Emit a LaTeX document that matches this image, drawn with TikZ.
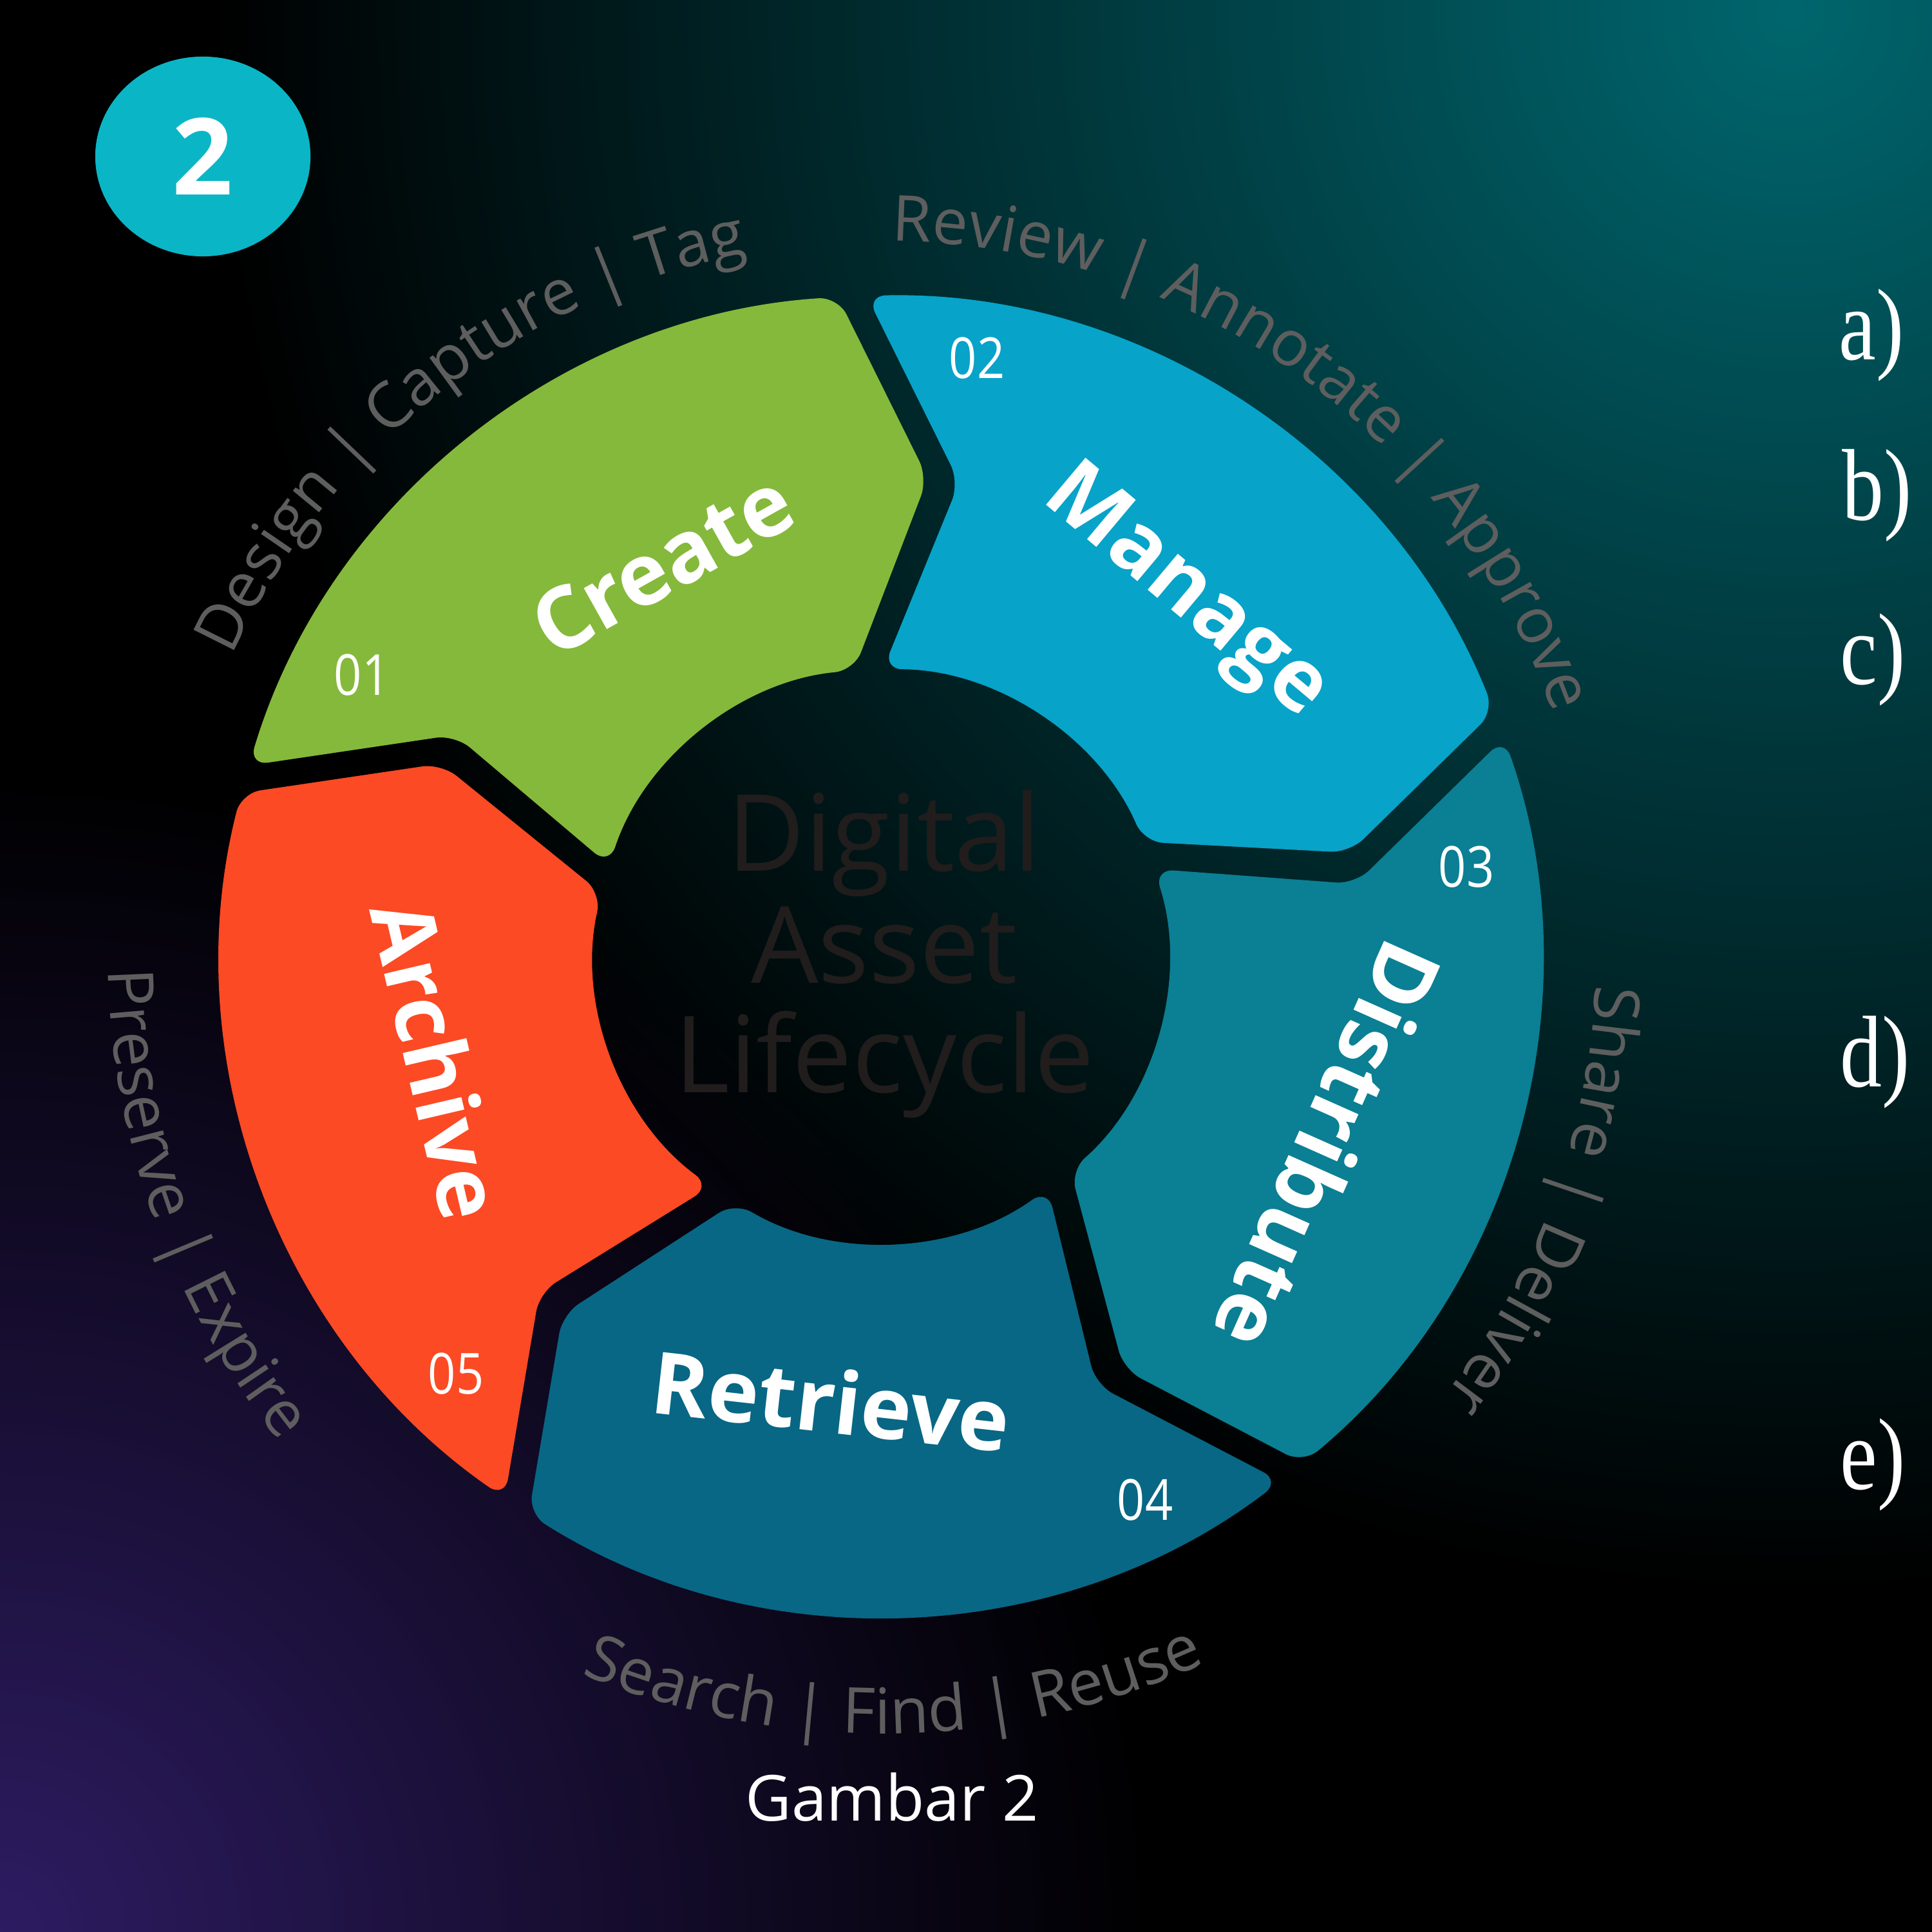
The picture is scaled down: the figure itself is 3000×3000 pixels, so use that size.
\documentclass[tikz,border=0pt]{standalone}
\usepackage{fontspec}
\setmainfont{Open Sans}
\newfontfamily\osans{Open Sans}
\newfontfamily\osnum{Open Sans}[FakeStretch=0.86]
\newfontfamily\serifL{Liberation Serif}[FakeStretch=0.82]
\usetikzlibrary{fadings,decorations.text,shapes.geometric}

\definecolor{cgreen}{RGB}{133,185,59}
\definecolor{cblue}{RGB}{7,163,201}
\definecolor{cteal}{RGB}{11,127,147}
\definecolor{cpetrol}{RGB}{8,103,132}
\definecolor{corange}{RGB}{252,74,36}
\definecolor{cbadge}{RGB}{10,182,198}
\definecolor{lblgray}{RGB}{94,94,94}
\definecolor{coregray}{RGB}{33,29,29}
\definecolor{glowteal}{RGB}{0,102,110}
\definecolor{glowpurple}{RGB}{46,28,98}

\tikzfading[name=softglow, inner color=transparent!0, outer color=transparent!100]

\newcommand{\Ro}{1025}
\newcommand{\Ri}{445}
\newcommand{\Rm}{745}
\newcommand{\go}{1.25}
\newcommand{\gi}{2.9}
\newcommand{\gm}{1.9}
\newcommand{\dl}{10}
% #1 = tail angle, #2 = style
\newcommand{\ringseg}[2]{%
  \fill[#2] ({#1-\go}:\Ro) arc[start angle={#1-\go}, end angle={#1-72+\go}, radius=\Ro]
    -- ({#1-72-\dl+\gm}:\Rm) -- ({#1-72+\gi}:\Ri)
    arc[start angle={#1-72+\gi}, end angle={#1-\gi}, radius=\Ri]
    -- ({#1-\dl-\gm}:\Rm) -- cycle;}
\newcommand{\olabfont}{\osans\fontsize{28}{30}\selectfont}

\begin{document}
\begin{tikzpicture}[x=0.01cm, y=0.01cm,
  segshape/.style={fill=#1, rounded corners=0.3cm},
  seglabel/.style={text=white, font=\osans\bfseries\fontsize{38}{46}\selectfont, inner sep=0pt},
  numlabel/.style={text=white, font=\osnum\fontsize{25}{30}\selectfont, inner sep=0pt},
  corelabel/.style={text=coregray, font=\osans\fontsize{47}{50}\selectfont, inner sep=0pt},
  enumlbl/.style={text=white, font=\serifL\fontsize{45}{50}\selectfont, inner sep=0pt, anchor=base west},
  capt/.style={text=white, font=\osans\fontsize{28}{32}\selectfont, inner sep=0pt},
  badgecirc/.style={ellipse, fill=cbadge, minimum width=3.34cm, minimum height=3.1cm, inner sep=0pt,
     text=white, font=\osans\bfseries\fontsize{47}{50}\selectfont},
  outerlbl/.style={decorate, decoration={text along path, text format delimiters={[}{]},
     text={[\olabfont]#1}, text align=center, text color=lblgray}}
]
\useasboundingbox (0,0) rectangle (3000,3000);
% background
\begin{scope}
  \clip (0,0) rectangle (3000,3000);
  \fill[black] (0,0) rectangle (3000,3000);
  \fill[glowteal, path fading=softglow] (2780,2980) circle (2450);
  \fill[glowpurple, path fading=softglow] (0,0) circle (1800);
\end{scope}

% ring
\begin{scope}[shift={(1368,1516)}]
  \ringseg{164.5}{segshape=cgreen}
  \ringseg{92.5}{segshape=cblue}
  \ringseg{20.5}{segshape=cteal}
  \ringseg{-51.5}{segshape=cpetrol}
  \ringseg{-123.5}{segshape=corange}

  \node[seglabel, rotate=29.2] (lcreate) at (119.2:697) {Create};
  \node[seglabel, rotate=-40] (lmanage) at (50:733) {Manage};
  \node[seglabel, rotate=-114] (ldist) at (-23:755) {Distribute};
  \node[seglabel, rotate=-6.4] (lretr) at (-96.4:695) {Retrieve};
  \node[seglabel, rotate=-76.8] (larch) at (-166.8:707) {Archive};

  \path[outerlbl={Design | Capture | Tag}] (173:1110) arc[start angle=173, end angle=83, radius=1110];
  \path[outerlbl={Review | Annotate | Approve}] (99.5:1110) arc[start angle=99.5, end angle=9.5, radius=1110];
  \path[outerlbl={Share | Deliver}] (24.8:1110) arc[start angle=24.8, end angle=-65.2, radius=1110];
  \path[outerlbl={Search | Find | Reuse}] (-134:1208) arc[start angle=-134, end angle=-44, radius=1208];
  \path[outerlbl={Preserve | Expire}] (155:1200) arc[start angle=155, end angle=245, radius=1200];
\end{scope}

% step numbers
\node[numlabel] (n1) at (562,1952) {01};
\node[numlabel] (n2) at (1517,2444) {02};
\node[numlabel] (n3) at (2277,1654) {03};
\node[numlabel] (n4) at (1778,671) {04};
\node[numlabel] (n5) at (708,867) {05};

% centre title
\node[corelabel, anchor=base] (core1) at (1373,1647) {Digital};
\node[corelabel, anchor=base] (core2) at (1373,1473) {Asset};
\node[corelabel, anchor=base] (core3) at (1373,1303) {Lifecycle};

% badge
\node[badgecirc] (badge) at (315,2757) {2};

% right list
\node[enumlbl] (ea) at (2855,2441) {a)};
\node[enumlbl] (eb) at (2860,2192) {b)};
\node[enumlbl] (ec) at (2857,1937) {c)};
\node[enumlbl] (ed) at (2857,1312) {d)};
\node[enumlbl] (ee) at (2857,687) {e)};

% caption
\node[capt, anchor=base] (cap) at (1385,172) {Gambar 2};
\end{tikzpicture}
\end{document}
